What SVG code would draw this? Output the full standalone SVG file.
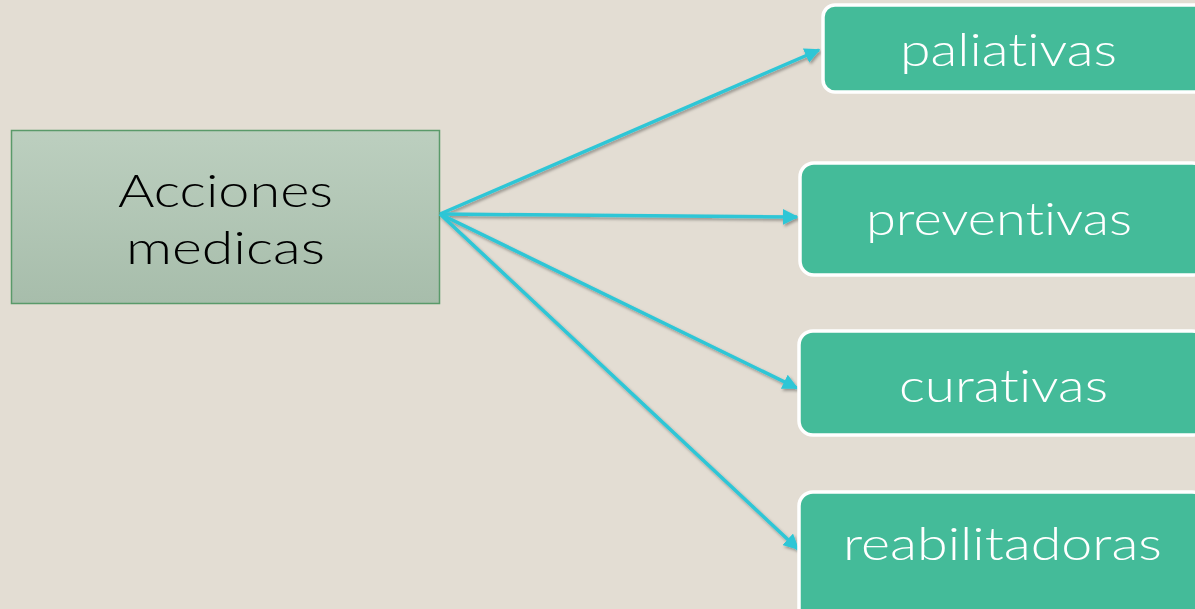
<svg xmlns="http://www.w3.org/2000/svg" width="1195" height="609" viewBox="0 0 1195 609">
<style>
text{font-variant-ligatures:none;font-feature-settings:"liga" 0,"clig" 0}
.leaf rect{fill:#44bb99;stroke:#ffffff;stroke-width:3.5}
.leaf text{fill:#ffffff;font-family:Lato,"Liberation Sans",sans-serif;font-size:46px;font-weight:300}
.main text{fill:#000000;font-family:Lato,"Liberation Sans",sans-serif;font-size:46px;font-weight:300}
.conn line{stroke:#2ec6d6;stroke-width:3.5;marker-end:url(#ah)}
</style>
<defs>
<linearGradient id="g1" x1="0" y1="0" x2="0" y2="1">
<stop offset="0" stop-color="#bccfbf"/>
<stop offset="1" stop-color="#a7bdab"/>
</linearGradient>
<marker id="ah" viewBox="0 0 10 10" refX="9" refY="5" markerWidth="4.5" markerHeight="4.5" orient="auto" markerUnits="strokeWidth">
<path d="M0,0 L10,5 L0,10 z" fill="#2ec6d6"/>
</marker>
<filter id="sh" x="-10%" y="-10%" width="120%" height="130%">
<feDropShadow dx="1.5" dy="2" stdDeviation="1.5" flood-color="#000" flood-opacity="0.35"/>
</filter>
</defs>
<rect width="1195" height="609" fill="#e3ddd3"/>
<g id="acciones" class="main">
<rect x="11.5" y="130.5" width="428" height="173" fill="url(#g1)" stroke="#5a9a6a" stroke-width="1.5"/>
<text x="118" y="207" textLength="215" lengthAdjust="spacingAndGlyphs">Acciones</text>
<text x="126" y="264" textLength="199" lengthAdjust="spacingAndGlyphs">medicas</text>
</g>
<g id="connectors" class="conn" filter="url(#sh)">
<line x1="440" y1="214" x2="819" y2="50"/>
<line x1="440" y1="214" x2="797" y2="217"/>
<line x1="440" y1="214" x2="797" y2="388"/>
<line x1="440" y1="214" x2="798" y2="549"/>
</g>
<g id="paliativas" class="leaf">
<rect x="823" y="5" width="383" height="87" rx="12"/>
<text x="900" y="66" textLength="217" lengthAdjust="spacingAndGlyphs">paliativas</text>
</g>
<g id="preventivas" class="leaf">
<rect x="800" y="163" width="406" height="112" rx="14"/>
<text x="866" y="235" textLength="266" lengthAdjust="spacingAndGlyphs">preventivas</text>
</g>
<g id="curativas" class="leaf">
<rect x="799" y="331" width="407" height="104" rx="14"/>
<text x="899" y="402" textLength="209" lengthAdjust="spacingAndGlyphs">curativas</text>
</g>
<g id="reabilitadoras" class="leaf">
<rect x="799" y="492" width="407" height="130" rx="14"/>
<text x="843" y="560" textLength="319" lengthAdjust="spacingAndGlyphs">reabilitadoras</text>
</g>
</svg>
